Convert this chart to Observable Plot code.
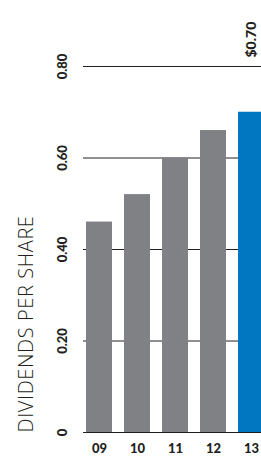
<!DOCTYPE html>
<html>
<head>
<meta charset="utf-8">
<script src="https://cdn.jsdelivr.net/npm/d3@7"></script>
<script src="https://cdn.jsdelivr.net/npm/@observablehq/plot@0.6"></script>
<style>
  html, body { margin: 0; padding: 0; background: #fff; overflow: hidden; }
  #chart svg { display: block; max-width: none !important; }
  #chart svg .axis-title text { letter-spacing: 0.6px; }
</style>
</head>
<body>
<div id="chart"></div>
<script>
const years = ["09", "10", "11", "12", "13"];
const dividends = [0.46, 0.52, 0.60, 0.66, 0.70];
const yTicks = [0, 0.2, 0.4, 0.6, 0.8];
const yTickLabels = ["0", "0.20", "0.40", "0.60", "0.80"];
const highlightLabel = "$0.70";
const axisTitle = "DIVIDENDS PER SHARE";

const data = years.map((y, i) => ({year: y, value: dividends[i], highlight: i === years.length - 1}));
const tickData = yTicks.map((t, i) => ({t, label: yTickLabels[i]}));

const boldFont = "Lato, 'Open Sans', sans-serif";

const chart = Plot.plot({
  width: 261,
  height: 456,
  marginLeft: 83,
  marginRight: 0,
  marginTop: 66,
  marginBottom: 24,
  style: {background: "transparent", overflow: "visible", maxWidth: "none"},
  x: {domain: years, range: [82.2, 267.8], paddingInner: 0.316, paddingOuter: 0.1, axis: null},
  y: {domain: [0, 0.8], axis: null},
  marks: [
    Plot.ruleY(yTicks, {stroke: "#231f20", strokeWidth: 1}),
    Plot.barY(data, {x: "year", y: "value", fill: d => d.highlight ? "#0077c0" : "#808184"}),
    Plot.text(tickData, {
      y: "t", text: "label", frameAnchor: "left", dx: -21, rotate: -90,
      textAnchor: "middle", lineAnchor: "middle",
      fontSize: 13, fontWeight: 900, fontFamily: boldFont, fill: "#231f20"
    }),
    Plot.text(data, {
      x: "year", text: "year", frameAnchor: "bottom", dy: 16,
      textAnchor: "middle", lineAnchor: "middle",
      fontSize: 13, fontWeight: 900, fontFamily: boldFont, fill: "#231f20"
    }),
    Plot.text(data.filter(d => d.highlight), {
      x: "year", y: () => 0.8, text: () => highlightLabel, dy: -9, rotate: -90,
      textAnchor: "start", lineAnchor: "middle",
      fontSize: 14, fontWeight: 900, fontFamily: boldFont, fill: "#231f20"
    }),
    Plot.text([axisTitle], {
      text: d => d, frameAnchor: "bottom-left", dx: -57, rotate: -90,
      textAnchor: "start", lineAnchor: "middle", className: "axis-title",
      fontSize: 20, fontWeight: 300, fontFamily: "'Open Sans', Lato, sans-serif", fill: "#231f20"
    })
  ]
});
document.getElementById("chart").appendChild(chart);
</script>
</body>
</html>
